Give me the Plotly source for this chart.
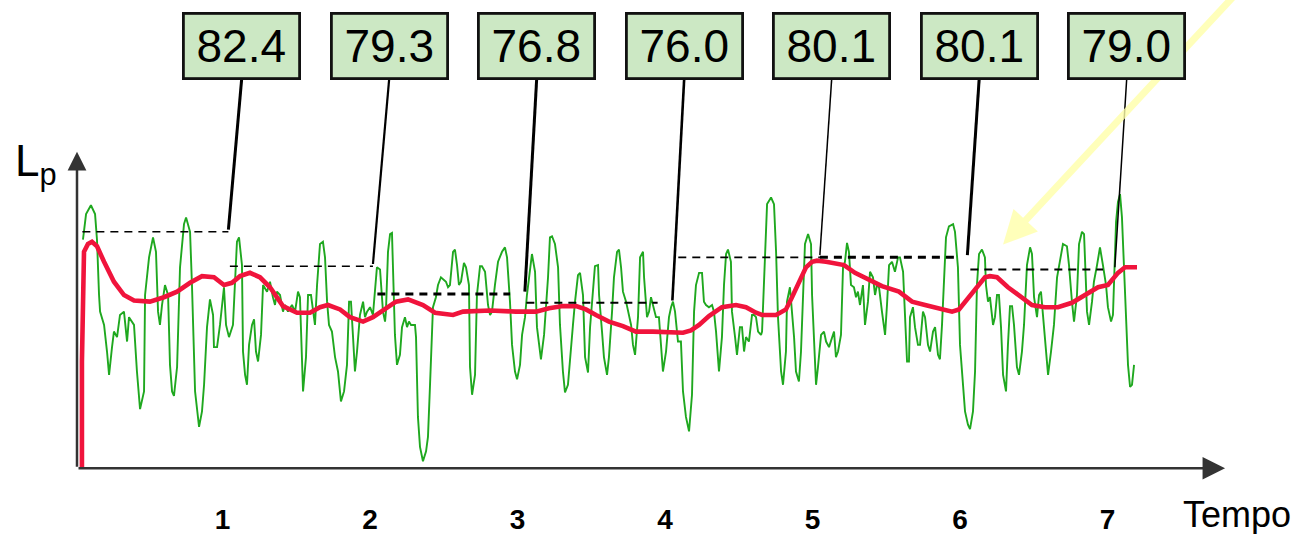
import plotly.graph_objects as go

# Instantaneous sound pressure level (green) and running Leq (red), time in periods
green_t = [0.054, 0.075, 0.108, 0.136, 0.149, 0.156, 0.163, 0.170, 0.197, 0.217, 0.231, 0.251, 0.264, 0.285,
           0.305, 0.332, 0.353, 0.366, 0.400, 0.420, 0.434, 0.441, 0.468, 0.475, 0.502, 0.529, 0.549, 0.563,
           0.576, 0.590, 0.610, 0.631, 0.644, 0.658, 0.671, 0.692, 0.712, 0.739, 0.753, 0.780, 0.793, 0.814,
           0.841, 0.861, 0.875, 0.895, 0.915, 0.936, 0.942, 0.963, 0.983, 1.010, 1.024, 1.044, 1.071, 1.098,
           1.112, 1.132, 1.139, 1.153, 1.166, 1.180, 1.200, 1.214, 1.227, 1.241, 1.261, 1.275, 1.302, 1.322,
           1.342, 1.356, 1.369, 1.390, 1.410, 1.424, 1.444, 1.471, 1.492, 1.512, 1.525, 1.539, 1.546, 1.566,
           1.580, 1.600, 1.614, 1.627, 1.641, 1.661, 1.681, 1.695, 1.709, 1.722, 1.742, 1.763, 1.783, 1.803,
           1.824, 1.844, 1.858, 1.871, 1.885, 1.898, 1.912, 1.932, 1.953, 1.966, 1.980, 2.000, 2.020, 2.034,
           2.047, 2.068, 2.088, 2.102, 2.108, 2.122, 2.136, 2.149, 2.156, 2.169, 2.183, 2.203, 2.217, 2.237,
           2.251, 2.264, 2.278, 2.305, 2.312, 2.325, 2.339, 2.359, 2.380, 2.393, 2.407, 2.427, 2.447, 2.461,
           2.481, 2.515, 2.529, 2.542, 2.563, 2.576, 2.590, 2.603, 2.617, 2.637, 2.651, 2.671, 2.678, 2.692,
           2.712, 2.725, 2.746, 2.759, 2.780, 2.786, 2.800, 2.814, 2.827, 2.847, 2.868, 2.895, 2.915, 2.929,
           2.949, 2.963, 2.983, 2.997, 3.017, 3.031, 3.051, 3.064, 3.085, 3.098, 3.119, 3.132, 3.159, 3.180,
           3.207, 3.220, 3.234, 3.254, 3.275, 3.288, 3.308, 3.322, 3.342, 3.356, 3.376, 3.390, 3.410, 3.424,
           3.444, 3.458, 3.478, 3.492, 3.512, 3.525, 3.546, 3.553, 3.573, 3.586, 3.607, 3.620, 3.641, 3.654,
           3.675, 3.688, 3.702, 3.715, 3.736, 3.756, 3.770, 3.783, 3.797, 3.817, 3.831, 3.851, 3.858, 3.878,
           3.892, 3.905, 3.919, 3.939, 3.959, 3.973, 3.986, 4.007, 4.027, 4.041, 4.054, 4.068, 4.088, 4.108,
           4.122, 4.142, 4.163, 4.183, 4.197, 4.210, 4.231, 4.251, 4.264, 4.278, 4.298, 4.319, 4.332, 4.346,
           4.366, 4.386, 4.400, 4.414, 4.427, 4.447, 4.454, 4.475, 4.488, 4.508, 4.522, 4.536, 4.549, 4.569,
           4.590, 4.603, 4.617, 4.631, 4.651, 4.658, 4.678, 4.692, 4.719, 4.739, 4.753, 4.766, 4.787, 4.800,
           4.820, 4.827, 4.847, 4.861, 4.875, 4.888, 4.908, 4.922, 4.936, 4.949, 4.970, 4.990, 4.997, 5.010,
           5.024, 5.037, 5.058, 5.078, 5.092, 5.112, 5.132, 5.146, 5.159, 5.173, 5.193, 5.207, 5.220, 5.234,
           5.247, 5.261, 5.281, 5.295, 5.308, 5.322, 5.342, 5.356, 5.376, 5.390, 5.410, 5.424, 5.437, 5.451,
           5.471, 5.492, 5.505, 5.519, 5.539, 5.559, 5.580, 5.593, 5.614, 5.627, 5.641, 5.654, 5.661, 5.681,
           5.695, 5.715, 5.729, 5.749, 5.763, 5.783, 5.797, 5.817, 5.831, 5.851, 5.864, 5.878, 5.892, 5.905,
           5.925, 5.953, 5.966, 5.986, 6.000, 6.020, 6.034, 6.054, 6.068, 6.088, 6.102, 6.115, 6.129, 6.149,
           6.169, 6.176, 6.190, 6.203, 6.224, 6.237, 6.251, 6.264, 6.278, 6.292, 6.312, 6.325, 6.339, 6.353,
           6.366, 6.386, 6.400, 6.420, 6.434, 6.454, 6.475, 6.488, 6.502, 6.522, 6.536, 6.549, 6.563, 6.583,
           6.597, 6.617, 6.637, 6.658, 6.678, 6.698, 6.725, 6.739, 6.759, 6.773, 6.793, 6.807, 6.827, 6.841,
           6.861, 6.875, 6.895, 6.908, 6.929, 6.949, 6.969, 6.990, 7.003, 7.024, 7.037, 7.058, 7.071, 7.085,
           7.098, 7.112, 7.125, 7.139, 7.153, 7.166, 7.180]
green_db = [81.7, 84.0, 84.8, 84.0, 81.7, 77.9, 76.7, 75.2, 74.0, 71.6, 69.5, 72.0, 73.4, 72.9,
            74.9, 75.2, 72.5, 74.7, 74.0, 69.8, 67.5, 66.4, 68.0, 76.7, 80.1, 81.9, 80.6, 75.2,
            74.0, 75.8, 77.6, 76.7, 70.4, 68.0, 67.6, 70.2, 79.2, 83.1, 83.7, 82.4, 77.6, 68.0,
            64.8, 66.2, 68.6, 73.8, 76.3, 74.9, 72.0, 72.0, 74.0, 77.4, 74.0, 72.9, 74.0, 81.5,
            81.9, 79.4, 71.6, 69.5, 68.6, 72.2, 74.0, 74.5, 71.6, 70.7, 73.1, 77.6, 77.0, 77.9,
            76.5, 75.8, 77.0, 76.7, 75.2, 75.8, 75.2, 75.8, 75.2, 77.0, 76.5, 71.6, 68.0, 71.1,
            76.7, 76.7, 75.2, 74.0, 77.6, 81.3, 81.5, 80.1, 76.1, 74.0, 73.4, 71.1, 69.8, 67.1,
            68.0, 70.4, 76.1, 76.1, 72.9, 69.8, 71.6, 74.9, 76.1, 74.7, 75.2, 75.6, 74.9, 77.6,
            79.2, 79.0, 75.2, 74.3, 75.2, 80.6, 82.2, 82.3, 79.2, 73.1, 70.4, 71.3, 73.8, 74.7,
            73.8, 74.3, 74.0, 74.0, 72.9, 65.7, 63.0, 61.7, 62.6, 63.9, 68.6, 75.6, 76.5, 77.6,
            78.3, 77.9, 77.4, 77.6, 80.6, 80.8, 79.4, 77.6, 77.9, 79.6, 79.2, 77.6, 70.2, 67.7,
            69.5, 76.7, 79.3, 79.3, 78.8, 77.6, 75.8, 74.9, 75.2, 77.6, 79.7, 80.6, 81.0, 80.1,
            76.1, 72.2, 69.8, 69.1, 70.4, 73.1, 74.7, 76.7, 79.2, 80.4, 78.8, 73.8, 70.9, 73.1,
            78.3, 81.9, 82.0, 81.3, 79.2, 74.0, 69.8, 67.9, 68.6, 71.1, 74.0, 76.1, 78.5, 78.7,
            76.7, 71.1, 69.7, 73.8, 76.7, 79.3, 79.4, 76.7, 73.4, 71.1, 69.5, 71.1, 75.2, 78.3,
            80.6, 80.8, 79.2, 77.0, 76.1, 74.7, 74.0, 72.2, 71.3, 74.7, 80.1, 80.6, 78.3, 74.7,
            75.2, 76.5, 75.8, 74.7, 74.7, 72.5, 69.8, 71.6, 74.7, 75.6, 76.1, 75.2, 72.5, 72.5,
            68.0, 65.7, 64.4, 67.7, 75.2, 77.6, 78.7, 78.7, 76.1, 75.8, 75.6, 75.8, 75.2, 73.4,
            69.8, 72.9, 77.6, 80.4, 80.8, 79.7, 75.2, 72.9, 71.3, 73.8, 73.8, 71.6, 72.9, 72.5,
            74.9, 74.9, 74.7, 73.4, 73.1, 73.4, 80.6, 84.9, 85.5, 84.9, 80.6, 74.7, 69.8, 68.6,
            71.6, 76.1, 77.4, 75.2, 72.9, 69.8, 68.9, 71.6, 77.6, 81.3, 82.2, 81.3, 76.7, 73.1,
            68.6, 70.2, 73.1, 73.4, 72.5, 72.0, 72.9, 73.4, 71.1, 71.6, 73.1, 79.2, 79.7, 81.4,
            80.6, 77.6, 77.4, 76.5, 77.0, 75.8, 77.6, 74.0, 76.1, 78.8, 78.3, 76.7, 77.6, 77.4,
            75.2, 73.1, 75.8, 79.4, 79.7, 78.8, 80.1, 80.1, 78.8, 74.7, 70.7, 70.7, 74.7, 75.6,
            73.8, 72.2, 72.2, 75.2, 74.7, 72.2, 71.6, 73.4, 73.8, 71.3, 70.9, 74.0, 78.8, 81.9,
            82.9, 83.1, 82.4, 79.2, 72.2, 68.9, 66.2, 65.0, 64.6, 66.2, 69.8, 77.6, 80.4, 80.8,
            80.1, 77.6, 76.1, 76.5, 74.0, 74.7, 76.7, 76.7, 73.8, 69.5, 68.0, 72.2, 75.7, 75.7,
            74.0, 70.2, 69.5, 71.6, 74.0, 79.4, 81.0, 80.4, 76.5, 74.7, 76.7, 77.0, 74.7, 71.1,
            69.5, 71.6, 74.0, 78.3, 79.7, 81.3, 81.1, 79.4, 76.1, 74.3, 76.7, 81.3, 82.4, 82.2,
            75.2, 74.0, 76.1, 77.9, 79.4, 81.0, 79.4, 77.6, 75.6, 74.3, 74.9, 83.3, 85.1, 85.8,
            83.7, 79.2, 73.8, 70.4, 68.4, 68.6, 70.4]

red_t = [0.047, 0.047, 0.061, 0.088, 0.115, 0.149, 0.197, 0.264, 0.332, 0.400, 0.508, 0.603, 0.692, 0.780,
         0.861, 0.942, 1.010, 1.064, 1.119, 1.186, 1.254, 1.322, 1.410, 1.505, 1.593, 1.661, 1.715, 1.797,
         1.864, 1.953, 2.020, 2.102, 2.176, 2.258, 2.359, 2.441, 2.563, 2.631, 2.814, 2.990, 3.125, 3.214,
         3.308, 3.397, 3.464, 3.532, 3.620, 3.715, 3.803, 3.919, 4.027, 4.122, 4.176, 4.231, 4.298, 4.386,
         4.481, 4.549, 4.617, 4.658, 4.753, 4.820, 4.861, 4.908, 4.956, 4.997, 5.031, 5.092, 5.159, 5.214,
         5.288, 5.383, 5.471, 5.586, 5.675, 5.763, 5.878, 5.946, 5.993, 6.061, 6.115, 6.169, 6.203, 6.251,
         6.325, 6.420, 6.488, 6.576, 6.664, 6.759, 6.847, 6.936, 7.003, 7.071, 7.119, 7.200]
red_db = [61.1, 70.7, 80.6, 81.3, 81.5, 81.1, 79.7, 77.9, 76.7, 76.2, 76.1, 76.5, 77.0, 77.8,
          78.4, 78.3, 77.6, 77.8, 78.4, 78.7, 78.3, 77.4, 75.7, 75.1, 75.1, 75.6, 75.8, 75.4,
          74.7, 74.3, 74.7, 75.4, 76.1, 76.3, 75.8, 75.1, 74.9, 75.2, 75.3, 75.2, 75.2, 75.5,
          75.7, 75.7, 75.4, 74.9, 74.3, 73.9, 73.4, 73.4, 73.3, 73.3, 73.5, 74.0, 74.8, 75.6,
          75.8, 75.6, 75.1, 74.9, 74.9, 75.4, 76.5, 77.9, 79.2, 79.7, 79.8, 79.7, 79.5, 79.4,
          78.7, 78.1, 77.5, 77.0, 76.1, 75.8, 75.4, 75.2, 75.4, 76.5, 77.5, 78.3, 78.4, 78.3,
          77.4, 76.5, 75.8, 75.6, 75.6, 76.0, 76.7, 77.4, 77.6, 78.7, 79.2, 79.2]

# Leq of each period, with the interval it was averaged over
leq_values = [82.4, 79.3, 76.8, 76.0, 80.1, 80.1, 79.0]
leq_start = [0.05, 1.05, 2.05, 3.06, 4.09, 5.05, 6.07]
leq_end = [1.04, 2.02, 2.95, 3.95, 5.05, 5.97, 6.97]
leq_labels = ["82.4", "79.3", "76.8", "76.0", "80.1", "80.1", "79.0"]
period_ticks = [1, 2, 3, 4, 5, 6, 7]
tick_text = ["1", "2", "3", "4", "5", "6", "7"]

# styling per period (dashed level line width, leader width)
seg_width = [1.5, 1.5, 3.0, 2.0, 1.8, 3.0, 1.8]
leader_width = [3.0, 2.2, 3.0, 2.6, 1.5, 3.0, 1.5]
leader_end = [1.04, 2.02, 3.05, 4.05, 5.05, 6.05, 7.05]

X0, X1 = 0.01356, 7.661
Y0, Y1 = 61.0, 103.32
AXIS_Y = 61.07
BOX_BOTTOM, BOX_TOP = 96.2, 102.2

fig = go.Figure()

fig.add_trace(go.Scatter(x=green_t, y=green_db, mode="lines",
                         line=dict(color="#1fa81f", width=1.9), hoverinfo="skip"))
fig.add_trace(go.Scatter(x=red_t, y=red_db, mode="lines",
                         line=dict(color="#f0143c", width=4.6), hoverinfo="skip"))

for v, s, e, w in zip(leq_values, leq_start, leq_end, seg_width):
    fig.add_trace(go.Scatter(x=[s, e], y=[v, v], mode="lines",
                             line=dict(color="black", width=w, dash="8px,6px"),
                             hoverinfo="skip"))

annotations = []
shapes = []

# pale yellow pointer arrow (drawn first, boxes sit over it)
annotations.append(dict(x=6.292, y=81.25, ax=7.956, ay=105.1, xref="x", yref="y",
                        axref="x", ayref="y", text="", showarrow=True,
                        arrowhead=2, arrowsize=0.95, arrowwidth=7,
                        arrowcolor="rgba(255,255,170,0.8)"))

# axes drawn as arrows
annotations.append(dict(x=X0, y=89.63, ax=X0, ay=AXIS_Y, xref="x", yref="y",
                        axref="x", ayref="y", text="", showarrow=True,
                        arrowhead=2, arrowsize=1.5, arrowwidth=2.5, arrowcolor="#333333"))
annotations.append(dict(x=7.797, y=AXIS_Y, ax=X0, ay=AXIS_Y, xref="x", yref="y",
                        axref="x", ayref="y", text="", showarrow=True,
                        arrowhead=2, arrowsize=1.8, arrowwidth=2.5, arrowcolor="#333333"))

for k, (lab, v, le, lw) in enumerate(zip(leq_labels, leq_values, leader_end, leader_width)):
    cx = period_ticks[k] + 0.13
    shapes.append(dict(type="line", xref="x", yref="y", x0=cx, y0=BOX_BOTTOM,
                       x1=le, y1=v + 0.2, line=dict(color="black", width=lw)))
    annotations.append(dict(x=cx, y=(BOX_BOTTOM + BOX_TOP) / 2, xref="x", yref="y",
                            text=lab, showarrow=False, width=113, height=62,
                            bgcolor="#cce8c4", bordercolor="#111111", borderwidth=2.8,
                            borderpad=0, xanchor="center", yanchor="middle",
                            font=dict(family="Liberation Sans, Arial", size=46, color="black")))

annotations.append(dict(x=-0.057, y=0.714, xref="paper", yref="paper", text="L<sub>p</sub>",
                        showarrow=False, xanchor="left", yanchor="top",
                        font=dict(family="Liberation Sans, Arial", size=44, color="black")))
annotations.append(dict(x=1.028, y=-0.098, xref="paper", yref="paper", text="Tempo",
                        showarrow=False, xanchor="center", yanchor="middle",
                        font=dict(family="Liberation Sans, Arial", size=36, color="black")))

fig.update_layout(
    width=1301, height=534, autosize=False,
    margin=dict(l=77, r=96, t=0, b=65),
    plot_bgcolor="white", paper_bgcolor="white",
    showlegend=False,
    xaxis=dict(range=[X0, X1], showgrid=False, zeroline=False, showline=False,
               tickvals=period_ticks, ticktext=tick_text, ticks="",
               ticklabelstandoff=31,
               tickfont=dict(family="Liberation Sans, Arial", size=28, color="black",
                             weight="bold")),
    yaxis=dict(range=[Y0, Y1], showgrid=False, zeroline=False, showline=False,
               showticklabels=False, ticks=""),
    annotations=annotations,
    shapes=shapes,
)

fig.write_html("out.html")
